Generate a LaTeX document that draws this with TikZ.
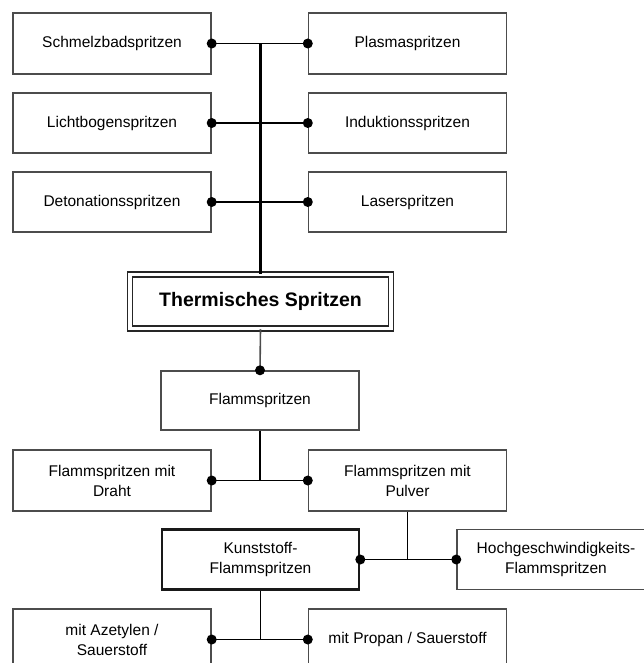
\documentclass[tikz,border=0pt]{standalone}
\usepackage{fontspec}
\setmainfont{Liberation Sans}
\begin{document}
\begin{tikzpicture}[x=1pt,y=-1pt,
  box/.style={draw=black!70, line width=1.4pt, minimum width=198pt, minimum height=61pt,
    inner sep=0pt, align=center, text=black,
    font=\fontsize{15.5}{20}\selectfont},
  mainbox/.style={draw=black!85, double, double distance=3.5pt, line width=1.5pt,
    minimum width=261pt, minimum height=54pt, inner sep=0pt,
    font=\fontsize{19.5}{23}\selectfont\bfseries},
  thickbox/.style={box, line width=2.6pt, draw=black!90},
  conn/.style={line width=1.8pt, black},
  bus/.style={line width=2.3pt, black},
  dot/.style={circle, fill=black, inner sep=0pt, minimum size=10pt}]
\useasboundingbox (0,0) rectangle (644,663);
\clip (0,0) rectangle (644,663);

\node[box] (L1) at (112,43.5) {Schmelzbadspritzen};
\node[box] (R1) at (407.5,43.5) {Plasmaspritzen};
\node[box, minimum height=60pt] (L2) at (112,123) {Lichtbogenspritzen};
\node[box, minimum height=60pt] (R2) at (407.5,123) {Induktionsspritzen};
\node[box, minimum height=60pt] (L3) at (112,202) {Detonationsspritzen};
\node[box, minimum height=60pt] (R3) at (407.5,202) {Laserspritzen};

\node[mainbox] (T) at (260.5,301.5) {Thermisches Spritzen};

\node[box, minimum height=59pt] (F) at (260,400.5) {Flammspritzen};
\node[box] (D) at (112,480.5) {Flammspritzen mit\\Draht};
\node[box] (P) at (407.5,480.5) {Flammspritzen mit\\Pulver};
\node[thickbox, minimum width=197pt, minimum height=60pt] (K) at (260.5,559.5) {Kunststoff-\\Flammspritzen};
\node[box, minimum height=60pt] (H) at (556,559.5) {Hochgeschwindigkeits-\\Flammspritzen};
\node[box] (A) at (112,639.5) {mit Azetylen /\\Sauerstoff};
\node[box] (Pr) at (407.5,639.5) {mit Propan / Sauerstoff};

% top bus
\coordinate (b1) at (T.north |- L1.east);
\draw[bus] (T.north) -- (b1);
\draw[conn] (L1.east) -- (R1.west);
\draw[conn] (L2.east) -- (R2.west);
\draw[conn] (L3.east) -- (R3.west);
\foreach \n in {L1,L2,L3} \node[dot] at (\n.east) {};
\foreach \n in {R1,R2,R3} \node[dot] at (\n.west) {};

% Thermisches -> Flammspritzen
\draw[line width=1.6pt, black!70] (T.south) -- (F.north);
\node[dot] at (F.north) {};

% Flammspritzen -> Draht / Pulver
\coordinate (b2) at (F.south |- D.east);
\draw[conn] (F.south) -- (b2);
\draw[conn] (D.east) -- (P.west);
\node[dot] at (D.east) {};
\node[dot] at (P.west) {};

% Pulver -> Kunststoff / Hochgeschwindigkeit
\coordinate (b3) at (P.south |- K.east);
\draw[conn] (P.south) -- (b3);
\draw[conn] (K.east) -- (H.west);
\node[dot] at (K.east) {};
\node[dot] at (H.west) {};

% Kunststoff -> Azetylen / Propan
\coordinate (b4) at (K.south |- A.east);
\draw[conn] (K.south) -- (b4);
\draw[conn] (A.east) -- (Pr.west);
\node[dot] at (A.east) {};
\node[dot] at (Pr.west) {};
\end{tikzpicture}
\end{document}
